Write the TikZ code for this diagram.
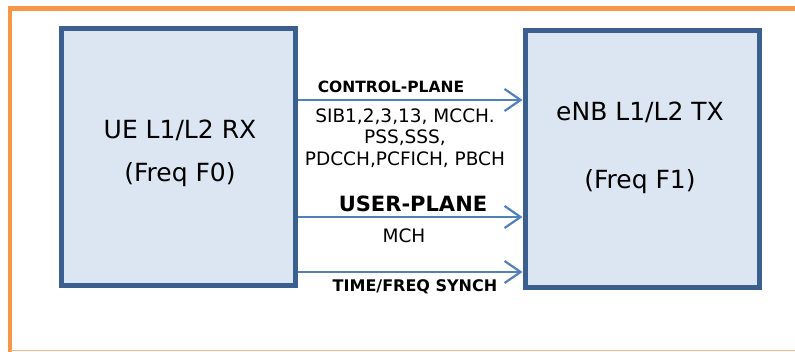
\documentclass[tikz,border=0pt]{standalone}
\usepackage{fontspec}
\setmainfont{DejaVu Sans}
\usetikzlibrary{arrows.meta}
\definecolor{frameorange}{HTML}{F79646}
\definecolor{framelight}{HTML}{F8B98A}
\definecolor{boxblue}{HTML}{3B5F8E}
\definecolor{boxfill}{HTML}{DCE6F2}
\definecolor{arrowblue}{HTML}{4F81BD}
\begin{document}
\begin{tikzpicture}[x=1pt, y=-1pt,
    unit/.style={draw=boxblue, fill=boxfill, line width=5pt, minimum width=234pt, minimum height=257pt, inner sep=0pt},
    unittext/.style={font=\fontsize{25}{30}\selectfont, text=black},
    link/.style={draw=arrowblue, line width=2.2pt, -{Straight Barb[length=16pt, width=22pt, line width=2.2pt]}},
    bigbold/.style={font=\fontsize{15.5}{18}\selectfont\bfseries},
    small/.style={font=\fontsize{18.5}{21.5}\selectfont, align=center}]
    \useasboundingbox (0,0) rectangle (795,352);
    % orange frame
    \draw[frameorange, line width=4.5pt] (10,352) -- (10,8.5) -- (800,8.5);
    \draw[framelight, line width=1pt] (10,350.5) -- (795,350.5);
    % boxes
    \node[unit] (ue) at (178.5,157) {};
    \node[unit] (enb) at (642,159) {};
    \node[unittext] (uename) at (180,130) {UE L1/L2 RX};
    \node[unittext] (uefreq) at (180,175) {(Freq F0)};
    \node[unittext] (enbname) at (640,112) {eNB L1/L2 TX};
    \node[unittext] (enbfreq) at (640,182) {(Freq F1)};
    % arrows
    \coordinate (cprow) at (0,100);
    \coordinate (uprow) at (0,217);
    \coordinate (syrow) at (0,272);
    \draw[link] (ue.east |- cprow) -- (enb.west |- cprow);
    \draw[link] (ue.east |- uprow) -- (enb.west |- uprow);
    \draw[link] (ue.east |- syrow) -- (enb.west |- syrow);
    % labels
    \node[bigbold] (cplabel) at (391,87) {CONTROL-PLANE};
    \node[small] (cpchans) at (405,138) {SIB1,2,3,13, MCCH.\\PSS,SSS,\\PDCCH,PCFICH, PBCH};
    \node[font=\fontsize{21}{25}\selectfont\bfseries] (uplabel) at (413,204) {USER-PLANE};
    \node[small] (upchans) at (404,236) {MCH};
    \node[font=\fontsize{16}{19}\selectfont\bfseries] (sylabel) at (415,287) {TIME/FREQ SYNCH};
\end{tikzpicture}
\end{document}
